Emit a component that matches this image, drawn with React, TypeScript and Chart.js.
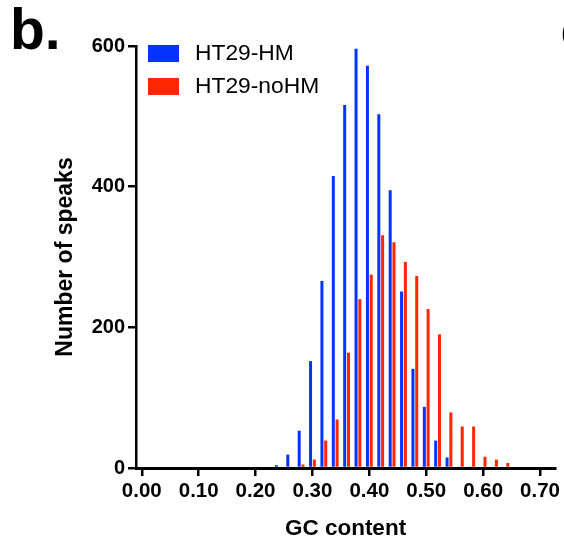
import React, { useEffect, useRef } from "react";
import { Chart, registerables } from "chart.js";

Chart.register(...registerables);

const gcBins = [0.24, 0.26, 0.28, 0.3, 0.32, 0.34, 0.36, 0.38, 0.4, 0.42, 0.44, 0.46, 0.48, 0.5, 0.52, 0.54, 0.56, 0.58, 0.6, 0.62, 0.64];
const hmCounts = [4, 19, 53, 152, 266, 415, 516, 596, 572, 503, 395, 251, 141, 87, 39, 15, 2, 2, 0, 0, 0];
const noHmCounts = [0, 2, 5, 12, 39, 69, 164, 240, 275, 331, 321, 293, 273, 226, 190, 79, 59, 59, 16, 12, 7];
const seriesNames = ["HT29-HM", "HT29-noHM"];
const seriesColors = ["#0433ff", "#ff2600"];
const xTickValues = [0, 0.1, 0.2, 0.3, 0.4, 0.5, 0.6, 0.7];
const yTickValues = [0, 200, 400, 600];
const panelLabel = "b.";
const nextPanelLabel = "c.";
const xTitle = "GC content";
const yTitle = "Number of speaks";

const FONT = "'Liberation Sans', Arial, Helvetica, sans-serif";

const overlayPlugin = {
  id: "overlay",
  afterDraw(chart: any) {
    const ctx = chart.ctx;
    ctx.save();
    ctx.fillStyle = "#000";
    ctx.font = `bold 57px ${FONT}`;
    ctx.textBaseline = "alphabetic";
    ctx.textAlign = "left";
    ctx.fillText(panelLabel, 10, 48.5);
    ctx.fillText(nextPanelLabel, 560.5, 48.5);

    // legend
    const ds = chart.data.datasets;
    ctx.font = `22.8px ${FONT}`;
    ctx.textBaseline = "middle";
    ds.forEach((d: any, i: number) => {
      const y = 45 + i * 33;
      ctx.fillStyle = d.backgroundColor;
      ctx.fillRect(148, y, 31, 17);
      ctx.fillStyle = "#000";
      ctx.fillText(d.label, 195, y + 8.5);
    });
    ctx.restore();
  },
};

export default function App() {
  const ref = useRef<HTMLCanvasElement>(null);
  useEffect(() => {
    if (!ref.current) return;
    const chart = new Chart(ref.current, {
      type: "bar",
      data: {
        datasets: [
          {
            label: seriesNames[0],
            data: gcBins.map((x, i) => ({ x, y: hmCounts[i] })),
            backgroundColor: seriesColors[0],
            borderWidth: 0,
          },
          {
            label: seriesNames[1],
            data: gcBins.map((x, i) => ({ x, y: noHmCounts[i] })),
            backgroundColor: seriesColors[1],
            borderWidth: 0,
          },
        ],
      },
      options: {
        responsive: false,
        animation: false,
        categoryPercentage: 0.667,
        barPercentage: 0.79,
        layout: { padding: { left: 0, right: 9, top: 46, bottom: 0 } },
        plugins: { legend: { display: false }, tooltip: { enabled: false } },
        scales: {
          x: {
            type: "linear",
            min: -0.0102,
            max: 0.7264,
            offset: false,
            afterBuildTicks: (scale: any) => {
              scale.ticks = xTickValues.map((v) => ({ value: v }));
            },
            afterFit: (scale: any) => {
              scale.height = 76;
            },
            border: { display: true, color: "#000", width: 3 },
            grid: {
              offset: false,
              drawOnChartArea: false,
              drawTicks: true,
              tickLength: 8,
              color: "#000",
              lineWidth: 2.5,
            },
            ticks: {
              color: "#000",
              padding: 3,
              maxRotation: 0,
              autoSkip: false,
              font: { family: FONT, size: 20.5, weight: "bold" },
              callback: (v: any) => Number(v).toFixed(2),
            },
            title: {
              display: true,
              text: xTitle,
              color: "#000",
              font: { family: FONT, size: 22.5, weight: "bold" },
              padding: { top: 0, bottom: 2 },
            },
          },
          y: {
            min: 0,
            max: 600,
            afterBuildTicks: (scale: any) => {
              scale.ticks = yTickValues.map((v) => ({ value: v }));
            },
            afterFit: (scale: any) => {
              scale.width = 136;
            },
            border: { display: true, color: "#000", width: 2.5 },
            grid: {
              drawOnChartArea: false,
              drawTicks: true,
              tickLength: 8,
              color: "#000",
              lineWidth: 2.5,
            },
            ticks: {
              color: "#000",
              padding: 3,
              font: { family: FONT, size: 20, weight: "bold" },
            },
            title: {
              display: true,
              text: yTitle,
              color: "#000",
              font: { family: FONT, size: 23, weight: "bold" },
              padding: { top: 52, bottom: 0 },
            },
          },
        },
      } as any,
      plugins: [overlayPlugin],
    });
    return () => chart.destroy();
  }, []);
  return (
    <div style={{ position: "absolute", left: 0, top: 0, width: 564, height: 544, background: "#fff" }}>
      <canvas ref={ref} width={564} height={544} style={{ display: "block" }} />
    </div>
  );
}
